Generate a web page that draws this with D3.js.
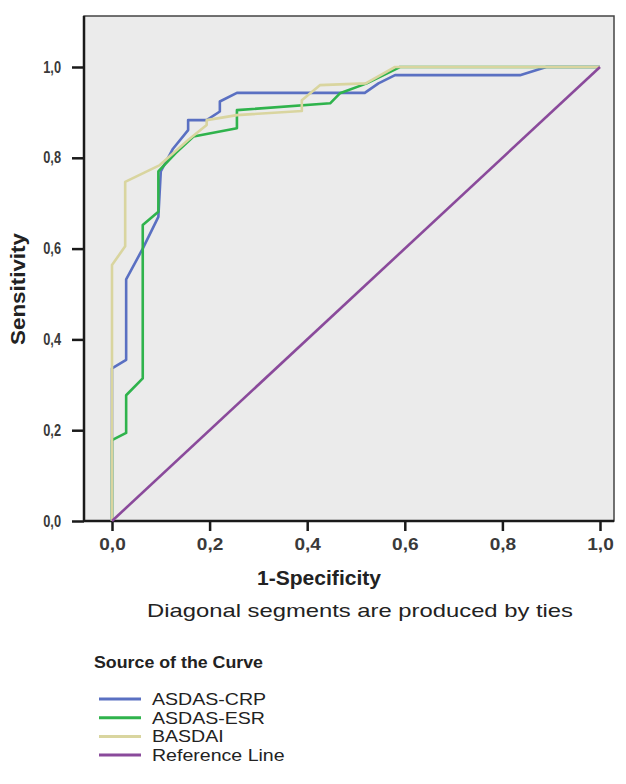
<!DOCTYPE html>
<html><head><meta charset="utf-8">
<script src="https://cdn.jsdelivr.net/npm/d3@7"></script>
<style>body{margin:0;background:#fff;} svg{display:block;font-family:Arial,"Liberation Sans",sans-serif;}</style>
</head><body>
<script>
const seriesNames = ["ASDAS-CRP", "ASDAS-ESR", "BASDAI", "Reference Line"];
const seriesColors = ["#5a70c2", "#2fb34c", "#d9d59f", "#8a4a9b"];
const xTicks = [0, 0.2, 0.4, 0.6, 0.8, 1.0];
const yTicks = [0, 0.2, 0.4, 0.6, 0.8, 1.0];
const tickLabels = ["0,0", "0,2", "0,4", "0,6", "0,8", "1,0"];

// ROC points: [1-specificity, sensitivity]
const asdasCrp = [[0,0],[0,0.336],[0.029,0.355],[0.029,0.532],[0.063,0.6],[0.095,0.67],[0.1,0.77],[0.125,0.82],[0.156,0.861],[0.156,0.883],[0.194,0.883],[0.221,0.902],[0.221,0.924],[0.256,0.943],[0.518,0.943],[0.546,0.964],[0.58,0.982],[0.836,0.982],[0.89,1.0],[1,1]];
const asdasEsr = [[0,0],[0,0.178],[0.029,0.194],[0.029,0.277],[0.063,0.314],[0.063,0.652],[0.095,0.681],[0.095,0.77],[0.13,0.81],[0.167,0.847],[0.256,0.865],[0.256,0.905],[0.447,0.92],[0.467,0.942],[0.522,0.964],[0.59,1.0],[1,1]];
const basdai = [[0,0],[0,0.564],[0.027,0.605],[0.027,0.747],[0.098,0.784],[0.156,0.839],[0.194,0.872],[0.194,0.883],[0.256,0.894],[0.389,0.903],[0.389,0.927],[0.426,0.96],[0.52,0.964],[0.58,1.0],[1,1]];
const referenceLine = [[0,0],[1,1]];

const W = 626, H = 784;
const svg = d3.select("body").append("svg").attr("width", W).attr("height", H);

const x = d3.scaleLinear().domain([0, 1]).range([112, 600]);
const y = d3.scaleLinear().domain([0, 1]).range([521, 67]);
const frame = {x0: 84, x1: 614, y0: 16, y1: 521};

function stretch(sel, factor) {
  sel.each(function() {
    const w = this.getComputedTextLength();
    d3.select(this).attr("textLength", w * factor).attr("lengthAdjust", "spacingAndGlyphs");
  });
}

svg.append("rect").attr("x", frame.x0).attr("y", frame.y0)
  .attr("width", frame.x1 - frame.x0).attr("height", frame.y1 - frame.y0)
  .attr("fill", "#ebebeb").attr("stroke", "#444").attr("stroke-width", 1.5);

const xAxis = svg.append("g").attr("transform", `translate(0,${frame.y1})`)
  .call(d3.axisBottom(x).tickValues(xTicks).tickFormat(d => tickLabels[xTicks.indexOf(d)]).tickSize(10).tickSizeOuter(0));
xAxis.select(".domain").attr("d", `M${frame.x0},0H${frame.x1}`).attr("stroke", "#1a1a1a").attr("stroke-width", 2.5);
xAxis.selectAll(".tick line").attr("stroke", "#1a1a1a").attr("stroke-width", 2.5);
xAxis.selectAll(".tick text").attr("font-size", 17).attr("font-weight", "bold").attr("fill", "#3a3a3a")
  .attr("y", 29).attr("dy", 0).attr("font-family", "Arial, 'Liberation Sans', sans-serif");
stretch(xAxis.selectAll(".tick text"), 1.12);

const yAxis = svg.append("g").attr("transform", `translate(${frame.x0},0)`)
  .call(d3.axisLeft(y).tickValues(yTicks).tickFormat(d => tickLabels[yTicks.indexOf(d)]).tickSize(12).tickSizeOuter(0));
yAxis.select(".domain").attr("d", `M0,${frame.y0}V${frame.y1}`).attr("stroke", "#1a1a1a").attr("stroke-width", 2.5);
yAxis.selectAll(".tick line").attr("stroke", "#1a1a1a").attr("stroke-width", 2.5);
yAxis.selectAll(".tick text").attr("font-size", 16).attr("font-weight", "bold").attr("fill", "#3a3a3a").attr("x", -23)
  .attr("font-family", "Arial, 'Liberation Sans', sans-serif");
stretch(yAxis.selectAll(".tick text"), 0.8);

const line = d3.line().x(d => x(d[0])).y(d => y(d[1]));
const allSeries = [asdasCrp, asdasEsr, basdai, referenceLine];
[0, 1, 2, 3].forEach(i => {
  svg.append("path").datum(allSeries[i]).attr("d", line)
    .attr("fill", "none").attr("stroke", seriesColors[i]).attr("stroke-width", 2.6)
    .attr("stroke-linejoin", "round");
});

const xt = svg.append("text").attr("x", 319).attr("y", 585).attr("text-anchor", "middle")
  .attr("font-size", 20).attr("font-weight", "bold").attr("fill", "#222").text("1-Specificity");
xt.attr("textLength", 124).attr("lengthAdjust", "spacingAndGlyphs");
svg.append("text").attr("transform", "translate(25,289) rotate(-90)").attr("text-anchor", "middle")
  .attr("font-size", 20).attr("font-weight", "bold").attr("fill", "#222").text("Sensitivity")
  .attr("textLength", 112).attr("lengthAdjust", "spacingAndGlyphs");
svg.append("text").attr("x", 360).attr("y", 617).attr("text-anchor", "middle")
  .attr("font-size", 19).attr("fill", "#222").text("Diagonal segments are produced by ties")
  .attr("textLength", 426).attr("lengthAdjust", "spacingAndGlyphs");

svg.append("text").attr("x", 94).attr("y", 668).attr("font-size", 17).attr("font-weight", "bold")
  .attr("fill", "#222").text("Source of the Curve")
  .attr("textLength", 169).attr("lengthAdjust", "spacingAndGlyphs");
const leg = svg.append("g");
seriesNames.forEach((n, i) => {
  const cy = 699 + i * 18.7;
  leg.append("line").attr("x1", 99).attr("x2", 141).attr("y1", cy).attr("y2", cy)
    .attr("stroke", seriesColors[i]).attr("stroke-width", 3);
  leg.append("text").attr("x", 152).attr("y", cy + 6).attr("font-size", 17).attr("fill", "#222").text(n);
});
stretch(leg.selectAll("text"), 1.15);
</script>
</body></html>
